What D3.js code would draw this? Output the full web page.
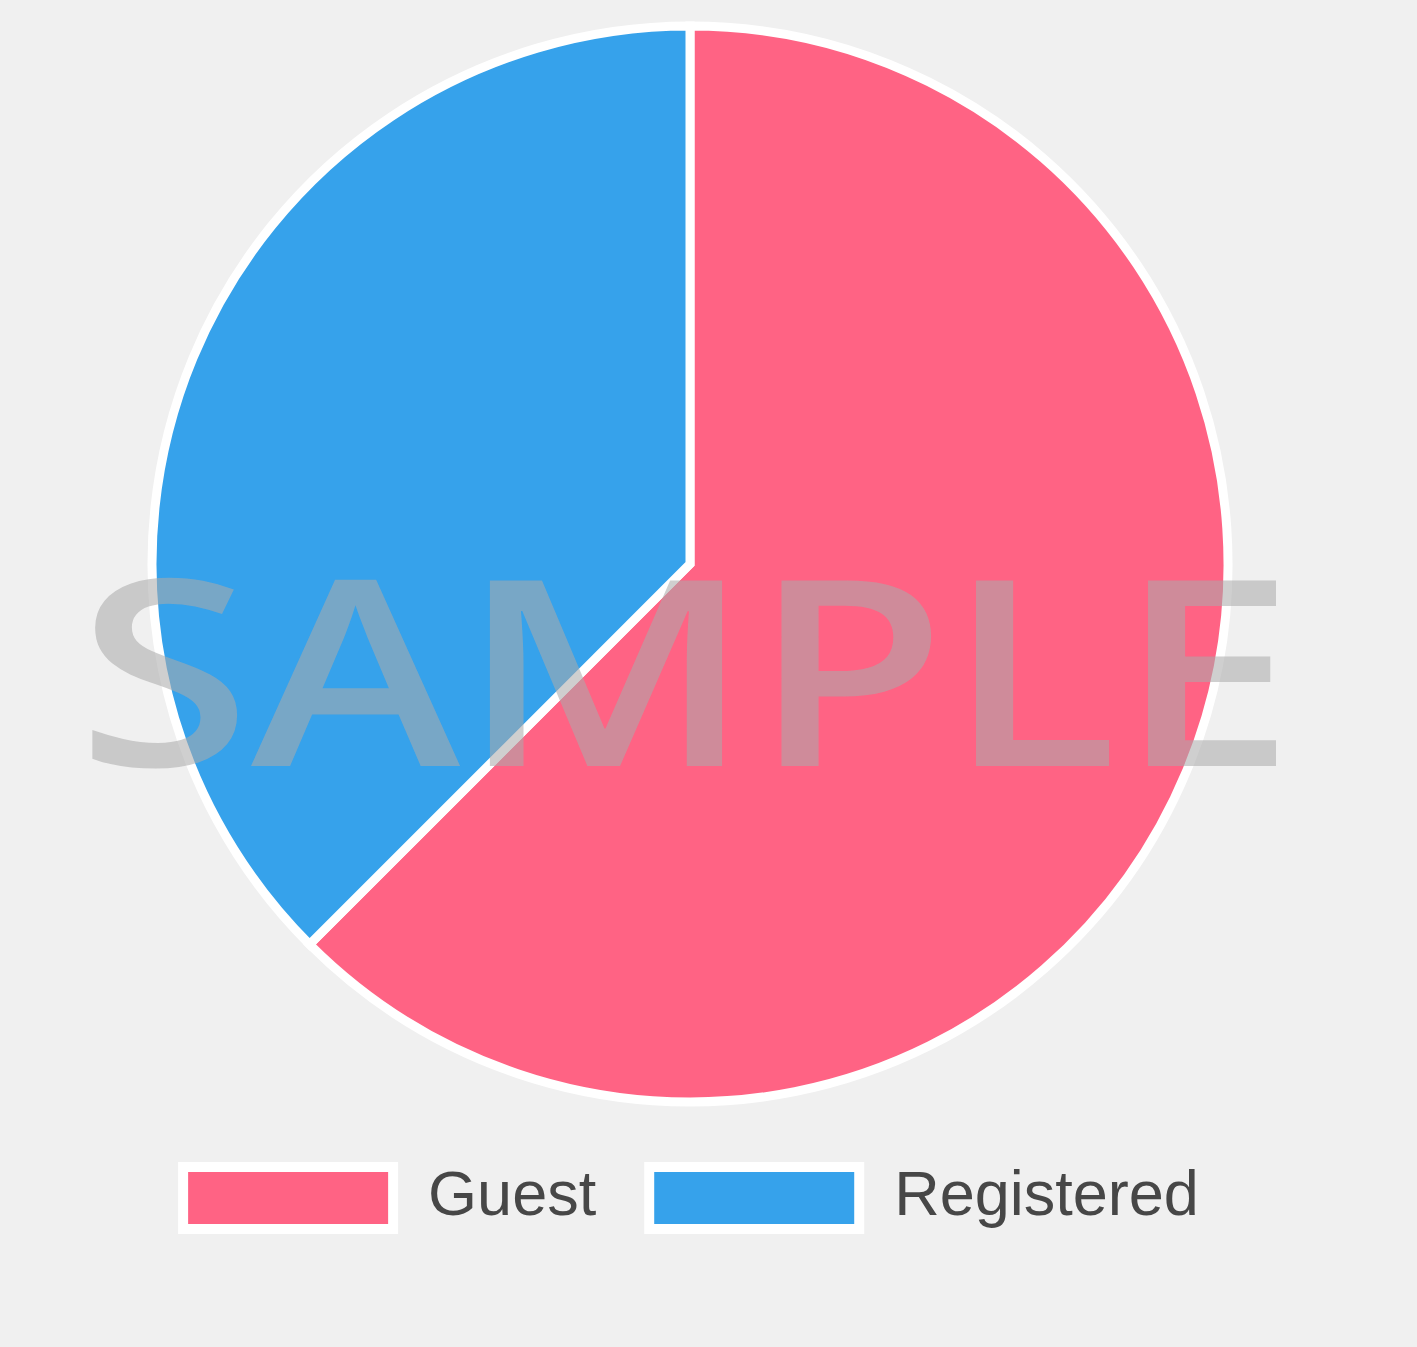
<!DOCTYPE html>
<html>
<head>
<meta charset="utf-8">
<script src="https://cdn.jsdelivr.net/npm/d3@7"></script>
<style>
  html, body { margin: 0; padding: 0; background: #f0f0f0; }
  svg { display: block; }
</style>
</head>
<body>
<svg id="chart" width="1417" height="1347"></svg>
<script>
const categories = ["Guest", "Registered"];
const values = [5, 3];
const colors = ["#FF6384", "#36A2EB"];
const watermarkText = "SAMPLE";

const W = 1417, H = 1347;
const svg = d3.select("#chart");
svg.append("rect").attr("width", W).attr("height", H).attr("fill", "#f0f0f0");

const cx = 690, cy = 564, radius = 538;
const data = categories.map((c, i) => ({ label: c, value: values[i], color: colors[i] }));

const pie = d3.pie().value(d => d.value).sort(null);
const arc = d3.arc().innerRadius(0).outerRadius(radius);

const g = svg.append("g").attr("transform", `translate(${cx},${cy})`);
g.selectAll("path")
  .data(pie(data))
  .join("path")
  .attr("d", arc)
  .attr("fill", d => d.data.color)
  .attr("stroke", "#ffffff")
  .attr("stroke-width", 9)
  .attr("stroke-linejoin", "miter");

// Legend
const legend = svg.append("g");
const boxW = 200, boxH = 52, boxTextGap = 40, itemGap = 58;
const fontSize = 63;
const legendY = 1172;
const items = legend.selectAll("g.item").data(data).join("g").attr("class", "item");
items.append("rect").attr("class", "border")
  .attr("x", -10).attr("y", -10).attr("width", boxW + 20).attr("height", boxH + 20)
  .attr("fill", "#ffffff");
items.append("rect")
  .attr("x", 0).attr("y", 0).attr("width", boxW).attr("height", boxH)
  .attr("fill", d => d.color);
items.append("text")
  .attr("x", boxW + boxTextGap).attr("y", 43)
  .attr("font-family", "'Liberation Sans', Arial, Helvetica, sans-serif")
  .attr("font-size", fontSize)
  .attr("fill", "#474747")
  .text(d => d.label);

let widths = [];
items.each(function() {
  const t = d3.select(this).select("text").node().getComputedTextLength();
  widths.push(boxW + boxTextGap + t);
});
const total = widths.reduce((a, b) => a + b, 0) + itemGap * (widths.length - 1);
let x0 = 693.5 - total / 2;
items.attr("transform", (d, i) => {
  const x = x0;
  x0 += widths[i] + itemGap;
  return `translate(${x},${legendY})`;
});

// Watermark
svg.append("text")
  .attr("x", 77).attr("y", 766)
  .attr("font-family", "'Open Sans', Lato, sans-serif")
  .attr("font-weight", 600)
  .attr("font-size", 260)
  .attr("textLength", 1218)
  .attr("lengthAdjust", "spacingAndGlyphs")
  .attr("fill", "#aaaaaa")
  .attr("fill-opacity", 0.57)
  .text(watermarkText);
</script>
</body>
</html>
